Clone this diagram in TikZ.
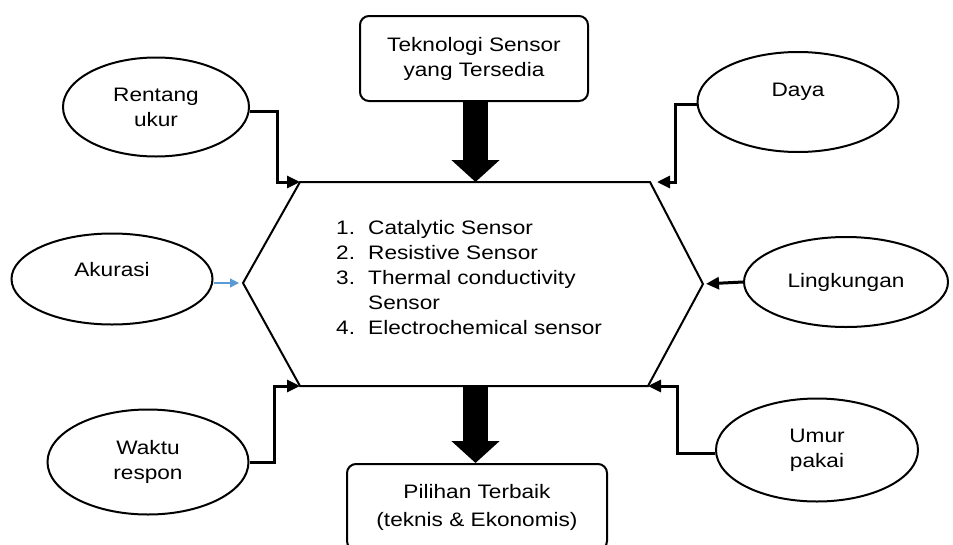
\documentclass[tikz,border=0pt]{standalone}
\usepackage{fontspec}
\setmainfont{Liberation Sans}[FakeStretch=1.16]
\usepackage{tikz}
\usetikzlibrary{shapes.geometric}
\usetikzlibrary{positioning}
\usetikzlibrary{arrows.meta}
\definecolor{linkblue}{RGB}{91,155,213}
\newcommand{\itemno}[1]{\makebox[32pt][l]{#1}}

\begin{document}
\begin{tikzpicture}
			[
				x = 1pt, y = -1pt,
				font = \fontsize{19.5}{25}\selectfont,
				factor/.style = {ellipse, draw = black, line width = 2pt, align = center, inner sep = 0pt},
				stage/.style = {rectangle, rounded corners = 9pt, draw = black, line width = 2pt, align = center, minimum width = 228pt, minimum height = 85pt},
				feed/.style = {line width = 3pt, -{Triangle[length = 13pt, width = 12pt]}},
				flow/.style = {line width = 25pt, -{Triangle[length = 22pt, width = 47pt]}},
			]
			\useasboundingbox (0,0) rectangle (953,544);
			\coordinate (hexTL) at (300,182);
			\coordinate (hexTR) at (650,182);
			\coordinate (hexE) at (703,284);
			\coordinate (hexBR) at (648,386);
			\coordinate (hexBL) at (300,386);
			\coordinate (hexW) at (243,283);
			\coordinate (hexN) at (475.5,182);
			\coordinate (hexS) at (475.5,386);
			\draw [line width = 2pt] (hexTL) -- (hexTR) -- (hexE) -- (hexBR) -- (hexBL) -- (hexW) -- cycle;
			\node (types) [anchor = west, align = left, inner sep = 0pt] at (336,277.5) {\itemno{1.}Catalytic Sensor\\\itemno{2.}Resistive Sensor\\\itemno{3.}Thermal conductivity\\\itemno{}Sensor\\\itemno{4.}Electrochemical sensor};
			\node (sensors) [stage] at (474,58.5) {Teknologi Sensor\\yang Tersedia};
			\node (choice) [stage, minimum width = 260pt, minimum height = 86pt] at (477,507) {Pilihan Terbaik\\[3pt](teknis \& Ekonomis)};
			\node (rentang) [factor, minimum width = 186pt, minimum height = 99pt] at (156,107) {Rentang\\ukur};
			\node (akurasi) [factor, minimum width = 201pt, minimum height = 91pt, label = {[yshift = 9pt]center:Akurasi}] at (112,279) {};
			\node (waktu) [factor, minimum width = 201pt, minimum height = 105pt] at (148,462) {Waktu\\respon};
			\node (daya) [factor, minimum width = 201pt, minimum height = 100pt, label = {[yshift = 10pt]center:Daya}] at (798,102) {};
			\node (lingkungan) [factor, minimum width = 204pt, minimum height = 90pt] at (846,282) {Lingkungan};
			\node (umur) [factor, minimum width = 202pt, minimum height = 103pt] at (817,450) {Umur\\pakai};
			\draw [flow] (sensors.south -| hexN) -- (hexN);
			\draw [flow] (hexS) -- (hexS |- choice.north);
			\draw [feed] ([yshift = -4pt]rentang.east) -- ++(27,0) |- (hexTL);
			\draw [feed] (waktu.east) -- ++(25,0) |- (hexBL);
			\draw [feed, shorten > = 7pt] ([yshift = -2pt]daya.west) -- ++(-21,0) |- (hexTR);
			\draw [feed, shorten > = 3pt] (lingkungan.west) -- (hexE);
			\draw [feed] ([yshift = -3pt]umur.west) -- ++(-38,0) |- (hexBR);
			\draw [line width = 1.3pt, linkblue, -{Triangle[length = 9pt, width = 9pt]}, shorten > = 4pt] ([yshift = -4pt]akurasi.east) -- (hexW);
		\end{tikzpicture}
\end{document}
